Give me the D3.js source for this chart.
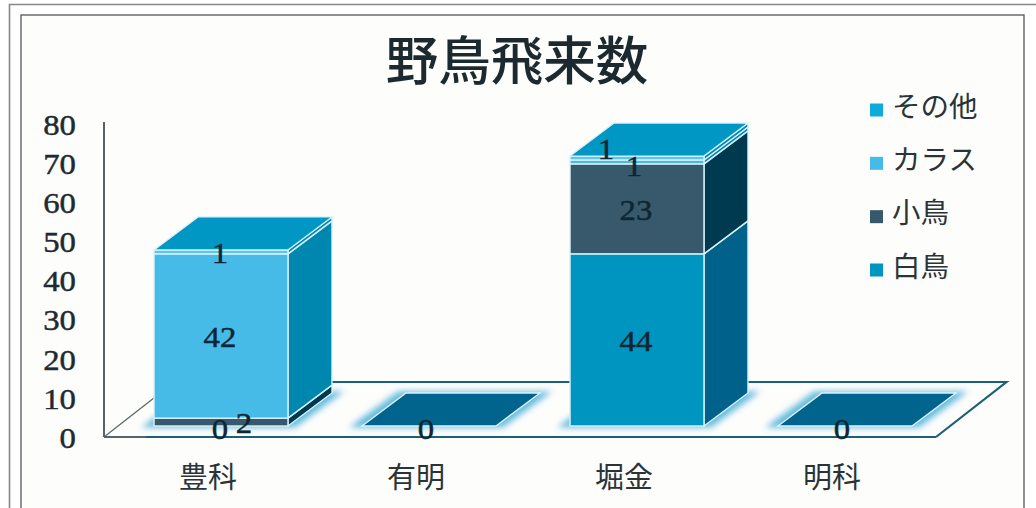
<!DOCTYPE html>
<html lang="ja">
<head>
<meta charset="utf-8">
<script src="https://cdn.jsdelivr.net/npm/d3@7/dist/d3.min.js"></script>
<style>
  html, body { margin: 0; padding: 0; background: #fff; }
  svg { display: block; }
  text { font-family: "Noto Sans CJK JP", "Noto Sans", sans-serif; }
  .num { font-family: "Liberation Serif", serif; stroke-width: 0.45px; }
</style>
</head>
<body>
<svg id="chart" width="1036" height="508"></svg>
<script>
// 野鳥飛来数: stacked pseudo-3D columns per survey site
const titleText = "野鳥飛来数";
const sites = ["豊科", "有明", "堀金", "明科"];
const seriesNames = ["白鳥", "小鳥", "カラス", "その他"];
const swans = [0, 0, 44, 0];
const smallBirds = [2, 0, 23, 0];
const crows = [42, 0, 1, 0];
const others = [1, 0, 1, 0];
const yTicks = [0, 10, 20, 30, 40, 50, 60, 70, 80];
const legendOrder = ["その他", "カラス", "小鳥", "白鳥"];

const frontColors = { "白鳥": "#0095c0", "小鳥": "#38596b", "カラス": "#47bbe7", "その他": "#5cc6ec" };
const sideColors = { "白鳥": "#00628a", "小鳥": "#003a50", "カラス": "#0087b0", "その他": "#0087b0" };
const legendColors = { "白鳥": "#0095c0", "小鳥": "#38596b", "カラス": "#47bbe7", "その他": "#0fa9dc" };
const emptyTopColor = "#00648c";
const filledTopColor = "#0097c4";
const inkColor = "#0d2633";

const width = 1036, height = 508;
const floorFront = 437, floorBack = 382;
const floorLeft = 104, floorRight = 936;
const baseInset = 11;
const depthX = 44, depthY = 33;

const svg = d3.select("#chart").attr("viewBox", [0, 0, width, height]);

const defs = svg.append("defs");
defs.append("filter").attr("id", "glow")
  .attr("x", "-20%").attr("y", "-40%").attr("width", "140%").attr("height", "180%")
  .append("feGaussianBlur").attr("stdDeviation", 3.2);

const y = d3.scaleLinear().domain([0, 80]).range([floorFront, floorFront - 313]);
const xFloor = d3.scaleBand().domain(sites).range([floorLeft, floorRight]);
const x = d3.scaleBand().domain(sites).range([117, 949]).paddingInner(0.356).paddingOuter(0.178);

// Page and double frame
svg.append("rect").attr("x", 21).attr("y", 15).attr("width", 1003).attr("height", height)
  .attr("fill", "#fdfdfc").attr("stroke", "#555").attr("stroke-width", 1.3);
svg.append("path").attr("d", `M9.5,${height}V4.5H${width}`)
  .attr("fill", "none").attr("stroke", "#888").attr("stroke-width", 1.6);

svg.append("text").attr("x", 517).attr("y", 57)
  .attr("text-anchor", "middle").attr("dominant-baseline", "central")
  .attr("font-size", 52.5).attr("font-weight", 500).attr("fill", "#1c2a30")
  .text(titleText);

// Floor plane
const floorPts = [
  [floorLeft, floorFront], [floorRight, floorFront],
  [floorRight + (floorFront - floorBack) * 1.28, floorBack],
  [floorLeft + (floorFront - floorBack) * 1.28, floorBack]
];
const plot = svg.append("g");
plot.append("path")
  .attr("d", `M${floorPts[1]}L${floorPts[2]}L${floorPts[3]}`)
  .attr("fill", "none").attr("stroke", "#1d5f78").attr("stroke-width", 2.2);
plot.append("line")
  .attr("x1", floorLeft).attr("y1", floorFront).attr("x2", floorPts[3][0]).attr("y2", floorPts[3][1])
  .attr("stroke", "#5a6468").attr("stroke-width", 1.2);
plot.append("line")
  .attr("x1", floorLeft).attr("x2", 146).attr("y1", floorFront).attr("y2", floorFront)
  .attr("stroke", "#5a6468").attr("stroke-width", 2.2);
plot.append("line")
  .attr("x1", 146).attr("x2", floorRight).attr("y1", floorFront).attr("y2", floorFront)
  .attr("stroke", "#1d5f78").attr("stroke-width", 2.2);
plot.append("line")
  .attr("x1", floorLeft).attr("x2", floorLeft).attr("y1", floorFront).attr("y2", 122)
  .attr("stroke", "#5a6468").attr("stroke-width", 2);

// Value axis and site axis
const yAxis = d3.axisLeft(y).tickValues(yTicks).tickSize(0).tickPadding(0);
const yG = svg.append("g").attr("transform", "translate(76,1)").call(yAxis);
yG.select(".domain").remove();
yG.selectAll("text").attr("class", "num").attr("font-size", 29)
  .attr("fill", "#1e2a30").attr("stroke", "#1e2a30")
  .attr("dy", "0.32em").attr("x", 0).attr("transform", "scale(1.13,1)");

const xAxis = d3.axisBottom(xFloor).tickSize(0).tickPadding(0);
const xG = svg.append("g").attr("transform", "translate(0,475)").call(xAxis);
xG.select(".domain").remove();
xG.selectAll("text").attr("font-size", 29).attr("fill", "#2a3438")
  .attr("y", 0).attr("dy", 0).attr("dominant-baseline", "central");

// Stack the series, lowest first
const rows = sites.map((s, i) => ({
  site: s, "白鳥": swans[i], "小鳥": smallBirds[i], "カラス": crows[i], "その他": others[i]
}));
const stacked = d3.stack().keys(seriesNames)(rows);

const heightOf = v => floorFront - y(v);
const yBase = v => floorFront - baseInset - heightOf(v);
const poly = pts => "M" + pts.map(p => p.join(",")).join("L") + "Z";

const edge = "#d9f2fb";
sites.forEach((site, i) => {
  const g = plot.append("g");
  const x0 = x(site), x1 = x0 + x.bandwidth();
  const b = yBase(0);
  // soft pool of light around the footprint, widest along the slanted sides
  g.append("path")
    .attr("d", poly([[x0 - 13, b + 1.5], [x1 + 7, b + 1.5], [x1 + depthX + 12, b - depthY - 1.5], [x0 + depthX - 8, b - depthY - 1.5]]))
    .attr("fill", "#55b4d8").attr("opacity", 0.9).attr("filter", "url(#glow)");

  stacked.forEach(layer => {
    const [v0, v1] = layer[i];
    if (v1 === v0) return;
    const yb = yBase(v0), yt = yBase(v1);
    g.append("path")
      .attr("d", poly([[x1, yb], [x1 + depthX, yb - depthY], [x1 + depthX, yt - depthY], [x1, yt]]))
      .attr("fill", sideColors[layer.key]).attr("stroke", edge).attr("stroke-width", 1.4);
    g.append("rect").attr("x", x0).attr("y", yt).attr("width", x1 - x0).attr("height", yb - yt)
      .attr("fill", frontColors[layer.key]).attr("stroke", edge).attr("stroke-width", 1.4);
  });

  const total = stacked[stacked.length - 1][i][1];
  const yt = yBase(total);
  g.append("path")
    .attr("d", poly([[x0, yt], [x1, yt], [x1 + depthX, yt - depthY], [x0 + depthX, yt - depthY]]))
    .attr("fill", total ? filledTopColor : emptyTopColor)
    .attr("stroke", edge).attr("stroke-width", total ? 1.2 : 1.4);
});

// Value labels sit mid-segment; crowded ones are pulled clear of their neighbours
const labelNudge = { "豊科|小鳥": [24, 0], "堀金|その他": [-30, -10], "堀金|カラス": [-2, 3] };
stacked.forEach(layer => {
  sites.forEach((site, i) => {
    const [v0, v1] = layer[i];
    const value = v1 - v0;
    const total = stacked[stacked.length - 1][i][1];
    if (value === 0 && layer.key !== "白鳥") return;
    const [nx, ny] = labelNudge[site + "|" + layer.key] || [0, 0];
    const px = x(site) + x.bandwidth() / 2 + (total ? -1 : -3) + nx;
    const py = (yBase(v0) + yBase(v1)) / 2 + 1.5 + ny + (value === 0 ? 1.5 : 0);
    svg.append("text").attr("class", "num")
      .attr("transform", `translate(${px},${py}) scale(1.13,1)`)
      .attr("text-anchor", "middle").attr("dominant-baseline", "central")
      .attr("font-size", 29).attr("fill", inkColor).attr("stroke", inkColor)
      .text(value);
  });
});

// Legend
const legendY = d3.scalePoint().domain(legendOrder).range([110, 270]);
const legend = svg.append("g").selectAll("g").data(legendOrder).join("g")
  .attr("transform", d => `translate(870,${legendY(d)})`);
legend.append("rect").attr("x", 0).attr("y", -6.5).attr("width", 13).attr("height", 13)
  .attr("fill", d => legendColors[d]);
legend.append("text").attr("x", 22).attr("y", -6)
  .attr("dominant-baseline", "central").attr("font-size", 28.5).attr("fill", "#2a3438")
  .text(d => d);
</script>
</body>
</html>
